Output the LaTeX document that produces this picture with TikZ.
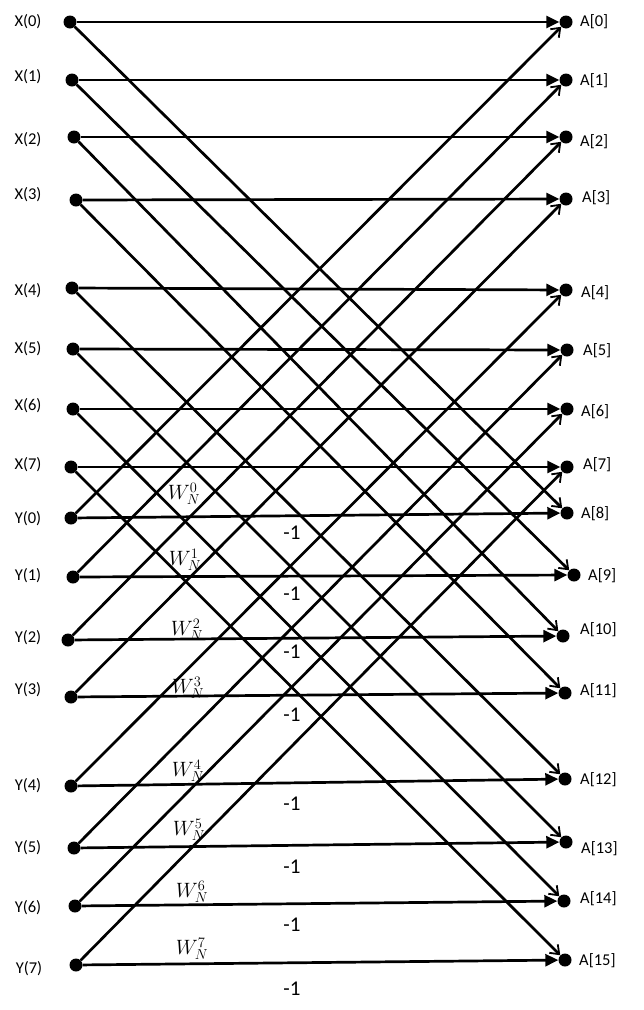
\documentclass[tikz,border=0pt]{standalone}
\usepackage{fontspec}
\setmainfont{Carlito}
\usetikzlibrary{arrows.meta}
\begin{document}
\begin{tikzpicture}[x=1pt,y=-1pt,
  dot/.style={circle,fill=black,draw=none,minimum size=13pt,inner sep=0pt},
  lbl/.style={font=\fontsize{16.5}{18}\selectfont,inner sep=0pt},
  rlbl/.style={lbl,anchor=west},
  wlbl/.style={font=\fontsize{20}{24}\selectfont,inner sep=0pt},
  mlbl/.style={font=\fontsize{21}{24}\selectfont,inner sep=0pt},
  harrow/.style={line width=2.7pt,-{Triangle[length=13pt,width=12pt]}},
  darrow/.style={line width=2.7pt,-{Straight Barb[length=8pt,width=12pt,line width=1.8pt]}}]
\useasboundingbox (0,0) rectangle (643,1010);
% left dots
\node[dot] (x0) at (70,22) {};
\node[dot] (x1) at (72,80) {};
\node[dot] (x2) at (74,137) {};
\node[dot] (x3) at (76,200) {};
\node[dot] (x4) at (72,288) {};
\node[dot] (x5) at (73,349) {};
\node[dot] (x6) at (73,409) {};
\node[dot] (x7) at (71,467) {};
\node[dot] (y0) at (71,518) {};
\node[dot] (y1) at (73,577) {};
\node[dot] (y2) at (68,640) {};
\node[dot] (y3) at (71,697) {};
\node[dot] (y4) at (71,786) {};
\node[dot] (y5) at (74,848) {};
\node[dot] (y6) at (75,906) {};
\node[dot] (y7) at (76,965) {};
% right dots
\node[dot] (a0) at (566,22) {};
\node[dot] (a1) at (566,80) {};
\node[dot] (a2) at (566,137) {};
\node[dot] (a3) at (566,199) {};
\node[dot] (a4) at (566,290) {};
\node[dot] (a5) at (567,350) {};
\node[dot] (a6) at (567,409) {};
\node[dot] (a7) at (567,467) {};
\node[dot] (a8) at (567,513) {};
\node[dot] (a9) at (574,575) {};
\node[dot] (a10) at (563,636) {};
\node[dot] (a11) at (565,693) {};
\node[dot] (a12) at (565,779) {};
\node[dot] (a13) at (566,842) {};
\node[dot] (a14) at (564,901) {};
\node[dot] (a15) at (565,960) {};
% left labels
\node[lbl] (lx0) at (28,22) {X(0)};
\node[lbl] (lx1) at (28,77) {X(1)};
\node[lbl] (lx2) at (28,140) {X(2)};
\node[lbl] (lx3) at (28,195) {X(3)};
\node[lbl] (lx4) at (28,291) {X(4)};
\node[lbl] (lx5) at (28,349) {X(5)};
\node[lbl] (lx6) at (28,406) {X(6)};
\node[lbl] (lx7) at (28,465) {X(7)};
\node[lbl] (ly0) at (28,519) {Y(0)};
\node[lbl] (ly1) at (28,576) {Y(1)};
\node[lbl] (ly2) at (28,638) {Y(2)};
\node[lbl] (ly3) at (28,690) {Y(3)};
\node[lbl] (ly4) at (28,786) {Y(4)};
\node[lbl] (ly5) at (28,848) {Y(5)};
\node[lbl] (ly6) at (28,908) {Y(6)};
\node[lbl] (ly7) at (29,969) {Y(7)};
% right labels
\node[rlbl] (la0) at (580,22) {A[0]};
\node[rlbl] (la1) at (580,81) {A[1]};
\node[rlbl] (la2) at (580,142) {A[2]};
\node[rlbl] (la3) at (582,198) {A[3]};
\node[rlbl] (la4) at (581,293) {A[4]};
\node[rlbl] (la5) at (583,351) {A[5]};
\node[rlbl] (la6) at (581,412) {A[6]};
\node[rlbl] (la7) at (583,465) {A[7]};
\node[rlbl] (la8) at (581,514) {A[8]};
\node[rlbl] (la9) at (588,576) {A[9]};
\node[rlbl] (la10) at (580,630) {A[10]};
\node[rlbl] (la11) at (580,691) {A[11]};
\node[rlbl] (la12) at (580,780) {A[12]};
\node[rlbl] (la13) at (581,849) {A[13]};
\node[rlbl] (la14) at (580,899) {A[14]};
\node[rlbl] (la15) at (579,961) {A[15]};
% twiddle labels
\node[wlbl] (w0) at (184,494) {$W_N^0$};
\node[wlbl] (w1) at (185,560) {$W_N^1$};
\node[wlbl] (w2) at (187,630) {$W_N^2$};
\node[wlbl] (w3) at (188,688) {$W_N^3$};
\node[wlbl] (w4) at (188,771) {$W_N^4$};
\node[wlbl] (w5) at (189,830) {$W_N^5$};
\node[wlbl] (w6) at (192,892) {$W_N^6$};
\node[wlbl] (w7) at (192,949) {$W_N^7$};
\node[mlbl] (m0) at (292,533) {-1};
\node[mlbl] (m1) at (292,594) {-1};
\node[mlbl] (m2) at (292,652) {-1};
\node[mlbl] (m3) at (292,715) {-1};
\node[mlbl] (m4) at (292,804) {-1};
\node[mlbl] (m5) at (292,867) {-1};
\node[mlbl] (m6) at (292,925) {-1};
\node[mlbl] (m7) at (292,989) {-1};
% connectors
\foreach \i [evaluate=\i as \j using int(\i+8)] in {0,...,7}{
  \draw[harrow] (x\i) -- (a\i);
  \draw[harrow] (y\i) -- (a\j);
  \draw[darrow] (x\i) -- (a\j);
  \draw[darrow] (y\i) -- (a\i);
}
\end{tikzpicture}
\end{document}
